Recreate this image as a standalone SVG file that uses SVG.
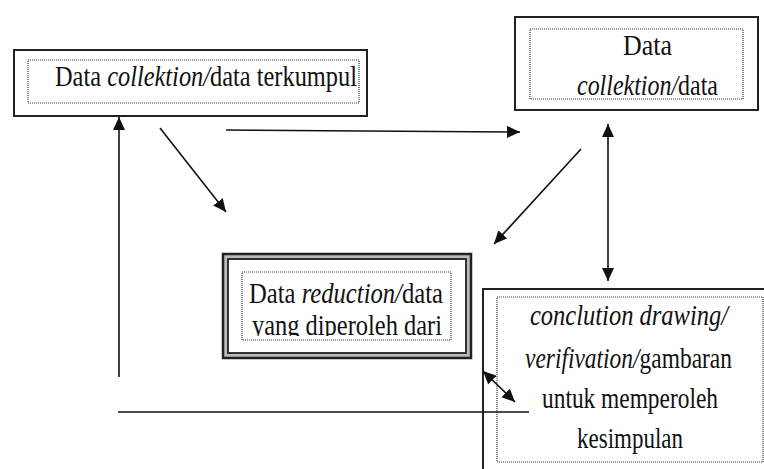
<svg xmlns="http://www.w3.org/2000/svg" width="764" height="469" viewBox="0 0 764 469">
  <defs>
    <marker id="head" markerUnits="userSpaceOnUse" markerWidth="14" markerHeight="12" refX="13" refY="6" orient="auto-start-reverse">
      <path d="M0,0 L13,6 L0,12 Z" fill="#111"/>
    </marker>
    <clipPath id="clip-reduction">
      <rect x="240" y="270" width="215" height="66"/>
    </clipPath>
  </defs>
  <style>
    .frame { fill: #fff; stroke: #222; stroke-width: 2; }
    .dots { fill: none; stroke: #333; stroke-width: 1.2; stroke-dasharray: 1 1; }
    .lbl { font-family: "Liberation Serif", "Times New Roman", serif; font-size: 29px; fill: #111; }
    .it { font-style: italic; }
    .wire { fill: none; stroke: #111; stroke-width: 1.6; }
  </style>

  <rect width="764" height="469" fill="#fff"/>

  <!-- collection node -->
  <g id="node-collection">
    <rect class="frame" x="14" y="50" width="353" height="66"/>
    <rect class="dots" x="28" y="60" width="331" height="43"/>
    <text class="lbl" x="55" y="86" textLength="302" lengthAdjust="spacingAndGlyphs">Data <tspan class="it">collektion/</tspan>data terkumpul</text>
  </g>

  <!-- second collection node -->
  <g id="node-collection-data">
    <rect class="frame" x="515" y="17" width="243" height="93"/>
    <rect class="dots" x="530" y="29" width="213" height="70"/>
    <text class="lbl" x="623" y="55" textLength="49" lengthAdjust="spacingAndGlyphs">Data</text>
    <text class="lbl" x="577" y="95" textLength="141" lengthAdjust="spacingAndGlyphs"><tspan class="it">collektion/</tspan>data</text>
  </g>

  <!-- reduction node with double border -->
  <g id="node-reduction">
    <rect x="223" y="254" width="248" height="104" fill="#bbb" stroke="#222" stroke-width="2.5"/>
    <rect x="228" y="259" width="238" height="94" fill="#fff" stroke="#222" stroke-width="1.8"/>
    <rect class="dots" x="242" y="272" width="209" height="68"/>
    <text class="lbl" x="249" y="303" textLength="194" lengthAdjust="spacingAndGlyphs">Data <tspan class="it">reduction/</tspan>data</text>
    <text class="lbl" x="252" y="335" textLength="190" lengthAdjust="spacingAndGlyphs" clip-path="url(#clip-reduction)">yang diperoleh dari</text>
  </g>

  <!-- conclusion node -->
  <g id="node-conclusion">
    <rect class="frame" x="483" y="289" width="300" height="200"/>
    <rect class="dots" x="497" y="297" width="266" height="165"/>
    <text class="lbl it" x="530" y="325" textLength="198" lengthAdjust="spacingAndGlyphs">conclution drawing/</text>
    <text class="lbl" x="525" y="368" textLength="207" lengthAdjust="spacingAndGlyphs"><tspan class="it">verifivation/</tspan>gambaran</text>
    <text class="lbl" x="542" y="408" textLength="176" lengthAdjust="spacingAndGlyphs">untuk memperoleh</text>
    <text class="lbl" x="577" y="448" textLength="106" lengthAdjust="spacingAndGlyphs">kesimpulan</text>
  </g>

  <!-- connectors -->
  <g id="connectors">
    <line class="wire" x1="226" y1="130" x2="520" y2="132" marker-end="url(#head)"/>
    <line class="wire" x1="160" y1="128" x2="226" y2="212" marker-end="url(#head)"/>
    <line class="wire" x1="581" y1="149" x2="494" y2="244" marker-end="url(#head)"/>
    <line class="wire" x1="608" y1="124" x2="608" y2="281" marker-start="url(#head)" marker-end="url(#head)"/>
    <line class="wire" x1="119" y1="377" x2="119" y2="117" marker-end="url(#head)"/>
    <line class="wire" x1="118" y1="412" x2="529" y2="412"/>
    <line class="wire" x1="483" y1="371" x2="515" y2="402" marker-start="url(#head)" marker-end="url(#head)"/>
  </g>
</svg>
